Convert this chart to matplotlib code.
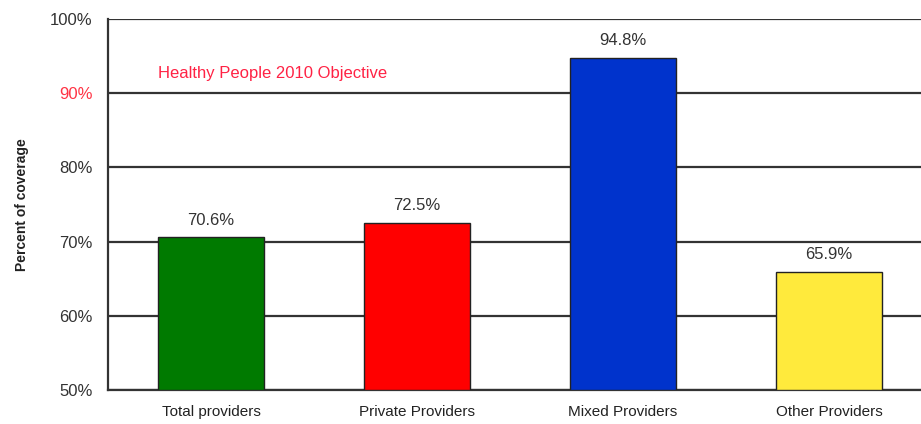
import matplotlib
matplotlib.use("Agg")
import matplotlib.pyplot as plt

categories = ["Total providers", "Private Providers", "Mixed Providers", "Other Providers"]
coverage = [70.6, 72.5, 94.8, 65.9]
bar_colors = ["#007A00", "#FF0000", "#0033CC", "#FFEA3C"]
yticks = [50, 60, 70, 80, 90, 100]
objective_label = "Healthy People 2010 Objective"

plt.rcParams["font.family"] = ["Liberation Sans", "DejaVu Sans"]

fig = plt.figure(figsize=(9.21, 4.24), dpi=100)
ax = fig.add_axes([108 / 921, 34 / 424, 824 / 921, 371 / 424])

x = list(range(len(categories)))
ax.bar(x, [v - 50 for v in coverage], bottom=50, width=0.51,
       color=bar_colors, edgecolor="#222222", linewidth=1.0, zorder=3)

for xi, v in zip(x, coverage):
    ax.text(xi, v + 1.3, f"{v:.1f}%", ha="center", va="bottom",
            fontsize=12, color="#333333", zorder=4)

ax.set_xlim(-0.5, len(categories) - 0.5)
ax.set_ylim(50, 100)
ax.set_yticks(yticks)
ax.set_yticklabels([f"{t}%" for t in yticks], fontsize=12, color="#333333")
for lbl, t in zip(ax.get_yticklabels(), yticks):
    if t == 90:
        lbl.set_color("#FF3344")
ax.set_xticks(x)
ax.set_xticklabels(categories, fontsize=11, color="#222222")
ax.tick_params(axis="both", length=0)
ax.tick_params(axis="x", pad=11)
ax.tick_params(axis="y", pad=11)

ax.yaxis.grid(True, color="#333333", linewidth=1.6, zorder=1)
ax.set_axisbelow(True)
for side in ["top", "right"]:
    ax.spines[side].set_visible(False)
for side in ["left", "bottom"]:
    ax.spines[side].set_color("#333333")
    ax.spines[side].set_linewidth(1.6)

ax.set_ylabel("Percent of coverage", fontsize=10, fontweight="bold",
              color="#222222", labelpad=15)

ax.text(0.061, 0.853, objective_label, transform=ax.transAxes,
        fontsize=12, color="#FF2244", ha="left", va="center")

fig.savefig("out.png", dpi=100)
